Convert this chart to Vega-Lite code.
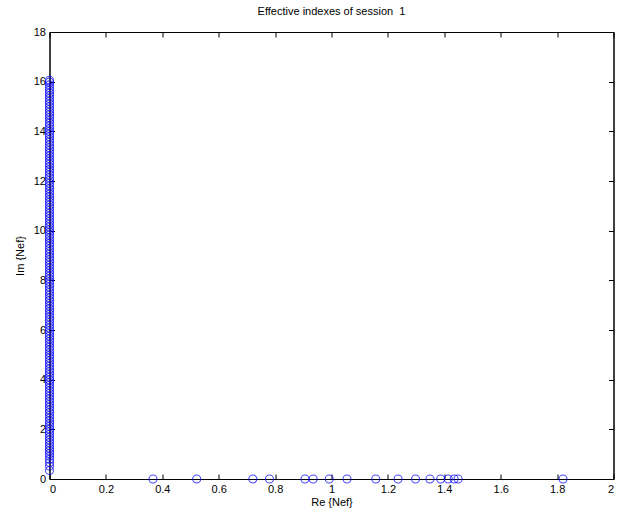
{
  "$schema": "https://vega.github.io/schema/vega-lite/v6.json",
  "width": 564,
  "height": 447,
  "autosize": "none",
  "padding": {"left": 49.5, "top": 32, "right": 3.5, "bottom": 34},
  "background": "white",
  "title": {"text": "Effective indexes of session\u00a0 1", "font": "Liberation Sans", "fontSize": 11, "fontWeight": "normal", "color": "black", "offset": 9, "anchor": "middle"},
  "config": {
    "view": {"stroke": "black", "strokeWidth": 1},
    "axis": {"grid": false, "domainColor": "black", "tickColor": "black", "labelColor": "black", "titleColor": "black", "labelFont": "Liberation Sans", "titleFont": "Liberation Sans", "labelFontSize": 11, "titleFontSize": 11, "titleFontWeight": "normal", "tickSize": -5, "labelPadding": 9}
  },
  "data": {"values": [
    {"re": 0, "im": 0.34}, {"re": 0, "im": 0.52}, {"re": 0, "im": 0.66}, {"re": 0, "im": 0.79}, {"re": 0, "im": 0.91}, {"re": 0, "im": 1.02}, {"re": 0, "im": 1.13}, {"re": 0, "im": 1.24}, {"re": 0, "im": 1.35}, {"re": 0, "im": 1.46}, {"re": 0, "im": 1.57}, {"re": 0, "im": 1.68}, {"re": 0, "im": 1.79}, {"re": 0, "im": 1.9}, {"re": 0, "im": 2.01}, {"re": 0, "im": 2.12}, {"re": 0, "im": 2.23}, {"re": 0, "im": 2.34}, {"re": 0, "im": 2.45}, {"re": 0, "im": 2.56}, {"re": 0, "im": 2.67}, {"re": 0, "im": 2.78}, {"re": 0, "im": 2.89}, {"re": 0, "im": 3.0}, {"re": 0, "im": 3.11}, {"re": 0, "im": 3.22}, {"re": 0, "im": 3.33}, {"re": 0, "im": 3.44}, {"re": 0, "im": 3.55}, {"re": 0, "im": 3.66}, {"re": 0, "im": 3.77}, {"re": 0, "im": 3.88}, {"re": 0, "im": 3.99}, {"re": 0, "im": 4.1}, {"re": 0, "im": 4.21}, {"re": 0, "im": 4.32}, {"re": 0, "im": 4.43}, {"re": 0, "im": 4.54}, {"re": 0, "im": 4.65}, {"re": 0, "im": 4.76}, {"re": 0, "im": 4.87}, {"re": 0, "im": 4.98}, {"re": 0, "im": 5.09}, {"re": 0, "im": 5.2}, {"re": 0, "im": 5.31}, {"re": 0, "im": 5.42}, {"re": 0, "im": 5.53}, {"re": 0, "im": 5.64}, {"re": 0, "im": 5.75}, {"re": 0, "im": 5.86}, {"re": 0, "im": 5.97}, {"re": 0, "im": 6.08}, {"re": 0, "im": 6.19}, {"re": 0, "im": 6.3}, {"re": 0, "im": 6.41}, {"re": 0, "im": 6.52}, {"re": 0, "im": 6.63}, {"re": 0, "im": 6.74}, {"re": 0, "im": 6.85}, {"re": 0, "im": 6.96}, {"re": 0, "im": 7.07}, {"re": 0, "im": 7.18}, {"re": 0, "im": 7.29}, {"re": 0, "im": 7.4}, {"re": 0, "im": 7.51}, {"re": 0, "im": 7.62}, {"re": 0, "im": 7.73}, {"re": 0, "im": 7.84}, {"re": 0, "im": 7.95}, {"re": 0, "im": 8.06}, {"re": 0, "im": 8.17}, {"re": 0, "im": 8.28}, {"re": 0, "im": 8.39}, {"re": 0, "im": 8.5}, {"re": 0, "im": 8.61}, {"re": 0, "im": 8.72}, {"re": 0, "im": 8.83}, {"re": 0, "im": 8.94}, {"re": 0, "im": 9.05}, {"re": 0, "im": 9.16}, {"re": 0, "im": 9.27}, {"re": 0, "im": 9.38}, {"re": 0, "im": 9.49}, {"re": 0, "im": 9.6}, {"re": 0, "im": 9.71}, {"re": 0, "im": 9.82}, {"re": 0, "im": 9.93}, {"re": 0, "im": 10.04}, {"re": 0, "im": 10.15}, {"re": 0, "im": 10.26}, {"re": 0, "im": 10.37}, {"re": 0, "im": 10.48}, {"re": 0, "im": 10.59}, {"re": 0, "im": 10.7}, {"re": 0, "im": 10.81}, {"re": 0, "im": 10.92}, {"re": 0, "im": 11.03}, {"re": 0, "im": 11.14}, {"re": 0, "im": 11.25}, {"re": 0, "im": 11.36}, {"re": 0, "im": 11.47}, {"re": 0, "im": 11.58}, {"re": 0, "im": 11.69}, {"re": 0, "im": 11.8}, {"re": 0, "im": 11.91}, {"re": 0, "im": 12.02}, {"re": 0, "im": 12.13}, {"re": 0, "im": 12.24}, {"re": 0, "im": 12.35}, {"re": 0, "im": 12.46}, {"re": 0, "im": 12.57}, {"re": 0, "im": 12.68}, {"re": 0, "im": 12.79}, {"re": 0, "im": 12.9}, {"re": 0, "im": 13.01}, {"re": 0, "im": 13.12}, {"re": 0, "im": 13.23}, {"re": 0, "im": 13.34}, {"re": 0, "im": 13.45}, {"re": 0, "im": 13.56}, {"re": 0, "im": 13.67}, {"re": 0, "im": 13.78}, {"re": 0, "im": 13.89}, {"re": 0, "im": 14.0}, {"re": 0, "im": 14.11}, {"re": 0, "im": 14.22}, {"re": 0, "im": 14.33}, {"re": 0, "im": 14.44}, {"re": 0, "im": 14.55}, {"re": 0, "im": 14.66}, {"re": 0, "im": 14.77}, {"re": 0, "im": 14.88}, {"re": 0, "im": 14.99}, {"re": 0, "im": 15.1}, {"re": 0, "im": 15.21}, {"re": 0, "im": 15.32}, {"re": 0, "im": 15.43}, {"re": 0, "im": 15.54}, {"re": 0, "im": 15.65}, {"re": 0, "im": 15.76}, {"re": 0, "im": 15.87}, {"re": 0, "im": 15.98}, {"re": 0, "im": 16.06},
    {"re": 0.367, "im": 0}, {"re": 0.522, "im": 0}, {"re": 0.721, "im": 0}, {"re": 0.78, "im": 0}, {"re": 0.906, "im": 0}, {"re": 0.935, "im": 0}, {"re": 0.992, "im": 0}, {"re": 1.055, "im": 0}, {"re": 1.157, "im": 0}, {"re": 1.236, "im": 0}, {"re": 1.298, "im": 0}, {"re": 1.349, "im": 0}, {"re": 1.387, "im": 0}, {"re": 1.414, "im": 0}, {"re": 1.435, "im": 0}, {"re": 1.449, "im": 0}, {"re": 1.821, "im": 0}
  ]},
  "layer": [
    {
      "mark": {"type": "point", "shape": "circle", "filled": false, "stroke": "#0000ff", "strokeWidth": 1.1, "size": 64, "clip": false},
      "encoding": {
        "x": {"field": "re", "type": "quantitative", "scale": {"domain": [0, 2], "nice": false, "zero": false}, "axis": {"title": "Re {Nef}", "values": [0, 0.2, 0.4, 0.6, 0.8, 1, 1.2, 1.4, 1.6, 1.8, 2], "format": "~g", "titlePadding": 2}},
        "y": {"field": "im", "type": "quantitative", "scale": {"domain": [0, 18], "nice": false, "zero": false}, "axis": {"title": "Im {Nef}", "values": [0, 2, 4, 6, 8, 10, 12, 14, 16, 18], "titlePadding": 8}}
      }
    },
    {
      "mark": {"type": "point", "opacity": 0},
      "encoding": {
        "x": {"field": "re", "type": "quantitative", "axis": {"orient": "top", "labels": false, "title": null, "values": [0, 0.2, 0.4, 0.6, 0.8, 1, 1.2, 1.4, 1.6, 1.8, 2]}},
        "y": {"field": "im", "type": "quantitative", "axis": {"orient": "right", "labels": false, "title": null, "values": [0, 2, 4, 6, 8, 10, 12, 14, 16, 18]}}
      }
    }
  ],
  "resolve": {"axis": {"x": "independent", "y": "independent"}}
}
